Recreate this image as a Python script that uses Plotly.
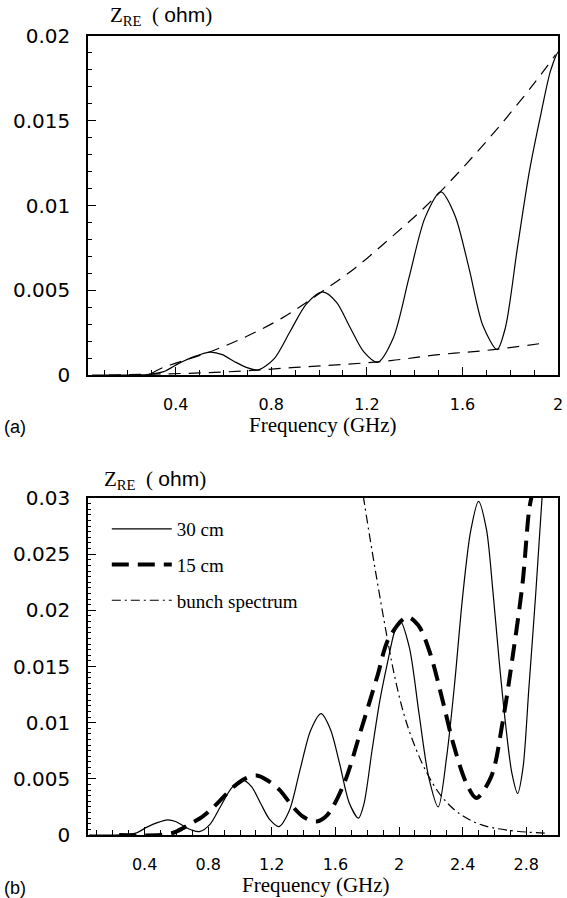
import plotly.graph_objects as go

# ---------------- data ----------------
# 30 cm line (solid): shared by panel (a) and panel (b)
freq_30 = [0.05, 0.20, 0.28, 0.35, 0.415, 0.48, 0.545, 0.595, 0.645, 0.695, 0.745,
           0.8125, 0.88, 0.9475, 1.015, 1.0725, 1.13, 1.1875, 1.245,
           1.311, 1.3775, 1.444, 1.51, 1.569, 1.6275, 1.686, 1.745,
           1.78, 1.83, 1.88, 1.93, 1.97, 2.005, 2.065, 2.126, 2.186, 2.247,
           2.30, 2.35, 2.40, 2.45, 2.50, 2.55, 2.59, 2.63, 2.67, 2.71, 2.746,
           2.78, 2.816, 2.86, 2.90]
zre_30 = [0.0, 0.0, 0.00003, 0.0002, 0.0007, 0.0011, 0.00135, 0.0012, 0.0008, 0.00045, 0.0003,
          0.00097, 0.0026, 0.0042, 0.0049, 0.0043, 0.0028, 0.00136, 0.00075,
          0.0022, 0.0058, 0.0093, 0.0108, 0.0094, 0.0063, 0.0029, 0.0015,
          0.0028, 0.0075, 0.0120, 0.0155, 0.0180, 0.0191, 0.0167, 0.0108, 0.0052, 0.0025,
          0.0070, 0.0135, 0.0212, 0.0270, 0.0297, 0.0272, 0.0218, 0.0155, 0.0099, 0.0055, 0.0037,
          0.0060, 0.0129, 0.0215, 0.0301]

# panel (a) envelopes (dashed)
freq_env_hi = [0.30, 0.34, 0.40, 0.55, 0.70, 0.85, 1.0, 1.15, 1.3, 1.45, 1.6, 1.75, 1.9, 1.99]
zre_env_hi = [0.0001, 0.0004, 0.0007, 0.0014, 0.0023, 0.0034, 0.0048, 0.0063, 0.0081,
              0.0100, 0.0122, 0.0146, 0.0172, 0.0189]
freq_env_lo = [0.12, 0.3, 0.5, 0.7, 0.9, 1.1, 1.3, 1.5, 1.7, 1.95]
zre_env_lo = [0.0, 0.00005, 0.00012, 0.00025, 0.00045, 0.00062, 0.00085, 0.0012, 0.00145, 0.0019]

# panel (b) 15 cm (thick dashed)
freq_15 = [0.24, 0.50, 0.58, 0.64, 0.70, 0.76, 0.82, 0.877, 0.96, 1.03, 1.105, 1.18, 1.25,
           1.333, 1.40, 1.48, 1.55, 1.655, 1.76, 1.863, 1.936, 2.05, 2.12, 2.195, 2.279,
           2.34, 2.424, 2.486, 2.58, 2.65, 2.715, 2.777, 2.818, 2.835]
zre_15 = [0.0, 0.0, 0.0002, 0.0006, 0.0011, 0.0016, 0.0023, 0.0031, 0.0043, 0.0050, 0.0053,
          0.0048, 0.0040, 0.0025, 0.0016, 0.0012, 0.0018, 0.0046, 0.0093, 0.0141, 0.0175,
          0.0194, 0.0187, 0.0162, 0.0117, 0.0082, 0.0046, 0.0033, 0.0052, 0.0099, 0.0159,
          0.0224, 0.0289, 0.0302]

# panel (b) bunch spectrum (dash-dot)
freq_bunch = [1.775, 1.82, 1.87, 1.92, 1.97, 2.03, 2.10, 2.18, 2.27, 2.38, 2.52, 2.70, 2.94]
zre_bunch = [0.0302, 0.0262, 0.0220, 0.0180, 0.0143, 0.0108, 0.0079, 0.0054, 0.0034,
             0.0019, 0.0009, 0.0004, 0.00015]

# tick labels
xticks_a = [0.4, 0.8, 1.2, 1.6, 2.0]
xticklabels_a = ["0.4", "0.8", "1.2", "1.6", "2"]
xticks_b = [0.4, 0.8, 1.2, 1.6, 2.0, 2.4, 2.8]
xticklabels_b = ["0.4", "0.8", "1.2", "1.6", "2", "2.4", "2.8"]
yticks_a = [0, 0.005, 0.01, 0.015, 0.02]
yticklabels_a = ["0", "0.005", "0.01", "0.015", "0.02"]
yticks_b = [0, 0.005, 0.01, 0.015, 0.02, 0.025, 0.03]
yticklabels_b = ["0", "0.005", "0.01", "0.015", "0.02", "0.025", "0.03"]

legend_names = ["30 cm", "15 cm", "bunch spectrum"]

# ---------------- figure ----------------
W, H = 567, 898
ML, MR, MT, MB = 88, 4, 36, 63
PH = H - MT - MB
SERIF = "Liberation Serif, Times New Roman, serif"
SANS = "DejaVu Sans, sans-serif"


def py(px):
    """pixel row -> paper y"""
    return (H - MB - px) / PH


def pxx(px):
    return (px - ML) / (W - ML - MR)


fig = go.Figure()
thin = dict(color="black", width=1.2)

fig.add_trace(go.Scatter(x=freq_30, y=zre_30, mode="lines", line=dict(**thin, shape="spline", smoothing=0.8),
                         xaxis="x", yaxis="y", showlegend=False))
fig.add_trace(go.Scatter(x=freq_env_hi, y=zre_env_hi, mode="lines",
                         line=dict(color="black", width=1.2, dash="12px,8px", shape="spline"),
                         xaxis="x", yaxis="y", showlegend=False))
fig.add_trace(go.Scatter(x=freq_env_lo, y=zre_env_lo, mode="lines",
                         line=dict(color="black", width=1.2, dash="12px,8px", shape="spline"),
                         xaxis="x", yaxis="y", showlegend=False))

fig.add_trace(go.Scatter(x=freq_30, y=zre_30, mode="lines", name=legend_names[0],
                         line=dict(**thin, shape="spline", smoothing=0.8),
                         xaxis="x2", yaxis="y2", legendgroup="a"))
fig.add_trace(go.Scatter(x=freq_15, y=zre_15, mode="lines", name=legend_names[1],
                         line=dict(color="black", width=4, dash="17px,9px", shape="spline", smoothing=0.9),
                         xaxis="x2", yaxis="y2", legendgroup="b"))
fig.add_trace(go.Scatter(x=freq_bunch, y=zre_bunch, mode="lines", name=legend_names[2],
                         line=dict(color="black", width=1.2, dash="9px,4px,2px,4px", shape="spline"),
                         xaxis="x2", yaxis="y2", legendgroup="c"))

axis_common = dict(showline=True, linecolor="black", linewidth=1.5, mirror=True,
                   showgrid=False, zeroline=False, ticks="inside", ticklen=8,
                   tickwidth=1.2, tickcolor="black")


def minor(step, length):
    return dict(tickmode="linear", dtick=step, tick0=0, ticks="inside", ticklen=length,
                tickwidth=1, tickcolor="black")


fig.update_layout(
    width=W, height=H, margin=dict(l=ML, r=MR, t=MT, b=MB),
    paper_bgcolor="white", plot_bgcolor="white",
    xaxis=dict(**axis_common, domain=[0, 1], anchor="y", range=[0.033, 2.0],
               tickmode="array", tickvals=xticks_a, ticktext=xticklabels_a,
               tickfont=dict(family=SANS, size=16, color="black"), ticklabelstandoff=14,
               minor=minor(0.1, 5)),
    yaxis=dict(**axis_common, domain=[py(375), 1], anchor="x", range=[0, 0.02],
               tickmode="array", tickvals=yticks_a, ticktext=yticklabels_a,
               tickfont=dict(family=SANS, size=20, color="black"), ticklabelstandoff=12,
               minor=minor(0.001, 4)),
    xaxis2=dict(**axis_common, domain=[0, 1], anchor="y2", range=[0.044, 3.0],
                tickmode="array", tickvals=xticks_b, ticktext=xticklabels_b,
                tickfont=dict(family=SANS, size=16, color="black"), ticklabelstandoff=14,
                minor=minor(0.1, 5)),
    yaxis2=dict(**axis_common, domain=[0, py(498)], anchor="x2", range=[0, 0.03],
                tickmode="array", tickvals=yticks_b, ticktext=yticklabels_b,
                tickfont=dict(family=SANS, size=20, color="black"), ticklabelstandoff=12,
                minor=minor(0.0005, 3)),
    legend=dict(x=pxx(107), y=py(510), xanchor="left", yanchor="top",
                bgcolor="rgba(0,0,0,0)", font=dict(family=SERIF, size=19, color="black"),
                itemwidth=60, tracegroupgap=8),
    showlegend=True,
)

title_txt = "Z<sub>RE</sub>  ( <span style='font-family:Liberation Sans'>ohm</span>)"
annots = [
    dict(x=pxx(108), y=py(16), text=title_txt, xanchor="left", yanchor="middle",
         font=dict(family=SERIF, size=21)),
    dict(x=pxx(102), y=py(480), text=title_txt, xanchor="left", yanchor="middle",
         font=dict(family=SERIF, size=21)),
    dict(x=pxx(325), y=py(425), text="Frequency (GHz)", xanchor="center", yanchor="middle",
         font=dict(family=SERIF, size=21)),
    dict(x=pxx(318), y=py(885), text="Frequency (GHz)", xanchor="center", yanchor="middle",
         font=dict(family=SERIF, size=21)),
    dict(x=pxx(1), y=py(427), text="(a)", xanchor="left", yanchor="middle",
         font=dict(family="Liberation Sans, sans-serif", size=18)),
    dict(x=pxx(1), y=py(888), text="(b)", xanchor="left", yanchor="middle",
         font=dict(family="Liberation Sans, sans-serif", size=18)),
]
for a in annots:
    a.update(xref="paper", yref="paper", showarrow=False)
    a["font"]["color"] = "black"
fig.update_layout(annotations=annots)

fig.write_html("out.html")
